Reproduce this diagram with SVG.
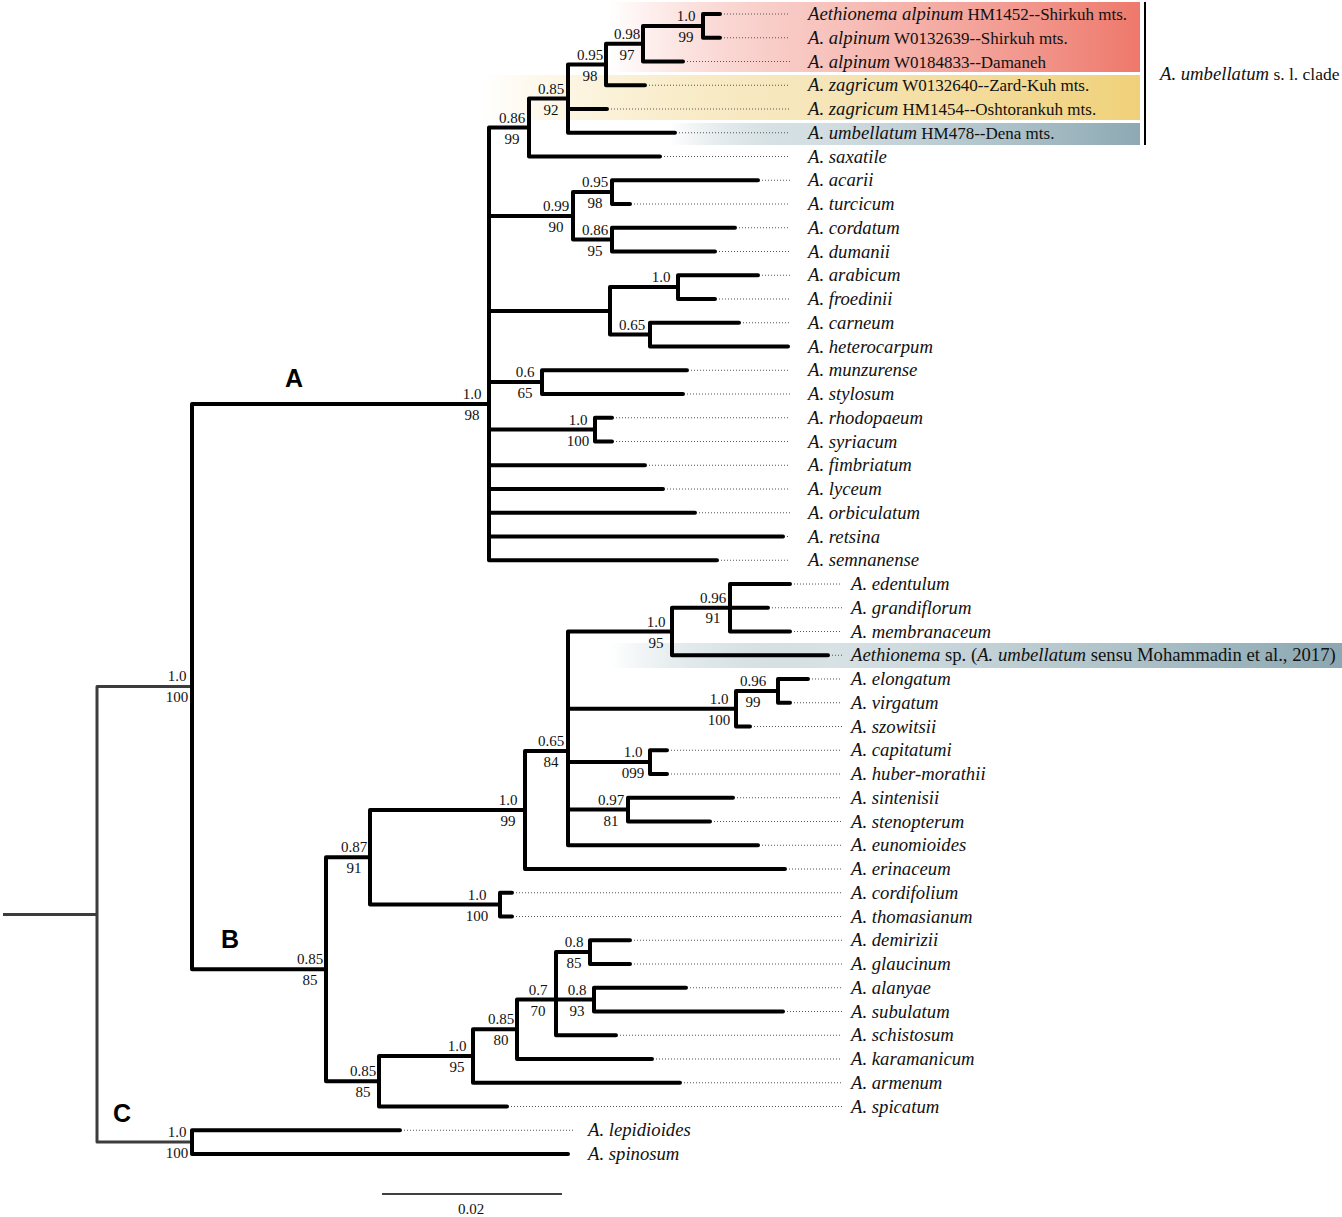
<svg xmlns="http://www.w3.org/2000/svg" width="1342" height="1217" viewBox="0 0 1342 1217">
<style>
.br{fill:none;stroke:#000;stroke-width:4;stroke-linejoin:round;stroke-linecap:round}
.rt{fill:none;stroke:#3c3c3c;stroke-width:3;stroke-linejoin:round;stroke-linecap:butt}
.dt{fill:none;stroke:#555;stroke-width:1;stroke-dasharray:1 2}
.lf{font-family:"Liberation Serif",serif;font-size:18.7px;font-style:italic;fill:#111}
.rg{font-style:normal;font-size:17px}
.rg2{font-style:normal}
.sp{font-family:"Liberation Serif",serif;font-size:15px;text-anchor:middle;fill:#111}
.cl{font-family:"Liberation Sans",sans-serif;font-weight:bold;font-size:25px;fill:#000}
</style>
<defs>
<linearGradient id="gRed" gradientUnits="userSpaceOnUse" x1="610" y1="0" x2="1140" y2="0"><stop offset="0" stop-color="#ef7a6c" stop-opacity="0"/><stop offset="0.35" stop-color="#f3a49b" stop-opacity="0.6"/><stop offset="1" stop-color="#ee786b"/></linearGradient>
<linearGradient id="gYel" gradientUnits="userSpaceOnUse" x1="480" y1="0" x2="1140" y2="0"><stop offset="0" stop-color="#f1d27c" stop-opacity="0"/><stop offset="0.5" stop-color="#f5e3b3" stop-opacity="0.9"/><stop offset="1" stop-color="#f0d179"/></linearGradient>
<linearGradient id="gBlu" gradientUnits="userSpaceOnUse" x1="670" y1="0" x2="1140" y2="0"><stop offset="0" stop-color="#8eaab4" stop-opacity="0"/><stop offset="0.3" stop-color="#c9d7dc" stop-opacity="0.8"/><stop offset="1" stop-color="#8da9b3"/></linearGradient>
<linearGradient id="gBlu2" gradientUnits="userSpaceOnUse" x1="610" y1="0" x2="1342" y2="0"><stop offset="0" stop-color="#8eaab4" stop-opacity="0"/><stop offset="0.3" stop-color="#d3dfe2" stop-opacity="0.9"/><stop offset="1" stop-color="#8ba7b1"/></linearGradient>
</defs>
<rect width="1342" height="1217" fill="#fff"/>
<g id="highlights">
<rect x="610" y="2" width="530" height="70" fill="url(#gRed)"/>
<rect x="480" y="75" width="660" height="45" fill="url(#gYel)"/>
<rect x="670" y="123" width="470" height="22" fill="url(#gBlu)"/>
<rect x="610" y="643" width="732" height="25" fill="url(#gBlu2)"/>
</g>
<g id="connectors">
<path class="rt" d="M3 914.4 H97 M192 686.6 H97 V1142.1 H192"/>
<path class="br" d="M489 404 H192 V969.3 H326"/>
<path class="br" d="M400 1130.25 H192 V1154 H568"/>
<path class="br" d="M720 14 H703 V37.75 H720"/>
<path class="br" d="M703 25.9 H643 V61.5 H683"/>
<path class="br" d="M643 43.7 H606 V85.25 H645"/>
<path class="br" d="M606 64.5 H568 V132.75 H675 M568 109 H607"/>
<path class="br" d="M568 98.6 H529 V156.5 H660"/>
<path class="br" d="M758 180.25 H612 V204 H630"/>
<path class="br" d="M735 227.75 H612 V251.5 H715"/>
<path class="br" d="M612 192.1 H573 V239.6 H612"/>
<path class="br" d="M758 275.25 H678 V299 H715"/>
<path class="br" d="M739 322.75 H650 V346.5 H788"/>
<path class="br" d="M678 287.1 H610 V334.6 H650"/>
<path class="br" d="M687 370.25 H542 V394 H683"/>
<path class="br" d="M612 417.75 H595 V441.5 H612"/>
<path class="br" d="M529 127.6 H489 V560.25 H717 M489 215.9 H573 M489 310.9 H610 M489 382.1 H542 M489 429.6 H595 M489 465.25 H645 M489 489 H663 M489 512.75 H695 M489 536.5 H783"/>
<path class="br" d="M790 584 H730 V631.5 H790 M730 607.75 H768"/>
<path class="br" d="M730 607.75 H672 V655.25 H828"/>
<path class="br" d="M808 679 H778 V702.75 H790"/>
<path class="br" d="M778 690.9 H736 V726.5 H750"/>
<path class="br" d="M667 750.25 H650 V774 H667"/>
<path class="br" d="M733 797.75 H628 V821.5 H710"/>
<path class="br" d="M672 631.5 H568 V845.25 H758 M568 708.7 H736 M568 762.1 H650 M568 809.6 H628"/>
<path class="br" d="M568 751 H525 V869 H785"/>
<path class="br" d="M512 892.75 H500 V916.5 H512"/>
<path class="br" d="M525 810 H370 V904.6 H500"/>
<path class="br" d="M630 940.25 H590 V964 H630"/>
<path class="br" d="M686 987.75 H594 V1011.5 H783"/>
<path class="br" d="M590 952.1 H556 V1035.25 H616 M556 999.6 H594"/>
<path class="br" d="M556 999.6 H517 V1059 H652"/>
<path class="br" d="M517 1029.3 H473 V1082.75 H680"/>
<path class="br" d="M473 1056 H379 V1106.5 H507"/>
<path class="br" d="M370 857.3 H326 V1081.3 H379"/>
<path class="dt" d="M724 14 H790 M724 37.75 H790 M687 61.5 H790 M649 85.25 H790 M611 109 H790 M679 132.75 H790 M664 156.5 H790 M762 180.25 H790 M634 204 H790 M739 227.75 H790 M719 251.5 H790 M762 275.25 H790 M719 299 H790 M743 322.75 H790 M691 370.25 H790 M687 394 H790 M616 417.75 H790 M616 441.5 H790 M649 465.25 H790 M667 489 H790 M699 512.75 H790 M787 536.5 H790 M721 560.25 H790"/>
<path class="dt" d="M794 584 H842 M772 607.75 H842 M794 631.5 H842 M832 655.25 H842 M812 679 H842 M794 702.75 H842 M754 726.5 H842 M671 750.25 H842 M671 774 H842 M737 797.75 H842 M714 821.5 H842 M762 845.25 H842 M789 869 H842 M516 892.75 H842 M516 916.5 H842 M634 940.25 H842 M634 964 H842 M690 987.75 H842 M787 1011.5 H842 M620 1035.25 H842 M656 1059 H842 M684 1082.75 H842 M511 1106.5 H842 M404 1130.25 H575"/>
<path d="M1145 2 V145" fill="none" stroke="#000" stroke-width="2"/>
<path d="M382 1194 H562" fill="none" stroke="#000" stroke-width="1.5"/>
</g>
<g id="clade-labels">
<text class="cl" x="285" y="387">A</text>
<text class="cl" x="221" y="948">B</text>
<text class="cl" x="113" y="1122">C</text>
<text class="lf" x="1160" y="80">A. umbellatum<tspan class="rg" style="font-size:17.5px"> s. l. clade</tspan></text>
<text class="sp" x="471" y="1214">0.02</text>
</g>
<g id="internal-nodes">
<g id="n1"><text class="sp" x="686" y="21">1.0</text><text class="sp" x="686" y="42">99</text></g>
<g id="n2"><text class="sp" x="627" y="39">0.98</text><text class="sp" x="627" y="60">97</text></g>
<g id="n3"><text class="sp" x="590" y="60">0.95</text><text class="sp" x="590" y="81">98</text></g>
<g id="n4"><text class="sp" x="551" y="94">0.85</text><text class="sp" x="551" y="115">92</text></g>
<g id="n5"><text class="sp" x="512" y="123">0.86</text><text class="sp" x="512" y="144">99</text></g>
<g id="n6"><text class="sp" x="595" y="187">0.95</text><text class="sp" x="595" y="208">98</text></g>
<g id="n7"><text class="sp" x="595" y="235">0.86</text><text class="sp" x="595" y="256">95</text></g>
<g id="n8"><text class="sp" x="556" y="211">0.99</text><text class="sp" x="556" y="232">90</text></g>
<g id="n9"><text class="sp" x="661" y="282">1.0</text></g>
<g id="n10"><text class="sp" x="632" y="330">0.65</text></g>
<g id="n12"><text class="sp" x="525" y="377">0.6</text><text class="sp" x="525" y="398">65</text></g>
<g id="n13"><text class="sp" x="578" y="425">1.0</text><text class="sp" x="578" y="446">100</text></g>
<g id="nA"><text class="sp" x="472" y="399">1.0</text><text class="sp" x="472" y="420">98</text></g>
<g id="n14"><text class="sp" x="713" y="603">0.96</text><text class="sp" x="713" y="623">91</text></g>
<g id="n15"><text class="sp" x="656" y="627">1.0</text><text class="sp" x="656" y="648">95</text></g>
<g id="n16"><text class="sp" x="753" y="686">0.96</text><text class="sp" x="753" y="707">99</text></g>
<g id="n17"><text class="sp" x="719" y="704">1.0</text><text class="sp" x="719" y="725">100</text></g>
<g id="n18"><text class="sp" x="633" y="757">1.0</text><text class="sp" x="633" y="778">099</text></g>
<g id="n19"><text class="sp" x="611" y="805">0.97</text><text class="sp" x="611" y="826">81</text></g>
<g id="n20"><text class="sp" x="551" y="746">0.65</text><text class="sp" x="551" y="767">84</text></g>
<g id="n21"><text class="sp" x="508" y="805">1.0</text><text class="sp" x="508" y="826">99</text></g>
<g id="n22"><text class="sp" x="477" y="900">1.0</text><text class="sp" x="477" y="921">100</text></g>
<g id="n23"><text class="sp" x="354" y="852">0.87</text><text class="sp" x="354" y="873">91</text></g>
<g id="n24"><text class="sp" x="574" y="947">0.8</text><text class="sp" x="574" y="968">85</text></g>
<g id="n25"><text class="sp" x="577" y="995">0.8</text><text class="sp" x="577" y="1016">93</text></g>
<g id="n26"><text class="sp" x="538" y="995">0.7</text><text class="sp" x="538" y="1016">70</text></g>
<g id="n27"><text class="sp" x="501" y="1024">0.85</text><text class="sp" x="501" y="1045">80</text></g>
<g id="n28"><text class="sp" x="457" y="1051">1.0</text><text class="sp" x="457" y="1072">95</text></g>
<g id="n29"><text class="sp" x="363" y="1076">0.85</text><text class="sp" x="363" y="1097">85</text></g>
<g id="nB"><text class="sp" x="310" y="964">0.85</text><text class="sp" x="310" y="985">85</text></g>
<g id="nAB"><text class="sp" x="177" y="681">1.0</text><text class="sp" x="177" y="702">100</text></g>
<g id="nC"><text class="sp" x="177" y="1137">1.0</text><text class="sp" x="177" y="1158">100</text></g>
</g>
<g id="leaves">
<g id="t1"><text class="lf" x="808" y="20">Aethionema alpinum<tspan class="rg"> HM1452--Shirkuh mts.</tspan></text></g>
<g id="t2"><text class="lf" x="808" y="43.75">A. alpinum<tspan class="rg"> W0132639--Shirkuh mts.</tspan></text></g>
<g id="t3"><text class="lf" x="808" y="67.5">A. alpinum<tspan class="rg"> W0184833--Damaneh</tspan></text></g>
<g id="t4"><text class="lf" x="808" y="91.25">A. zagricum<tspan class="rg"> W0132640--Zard-Kuh mts.</tspan></text></g>
<g id="t5"><text class="lf" x="808" y="115">A. zagricum<tspan class="rg"> HM1454--Oshtorankuh mts.</tspan></text></g>
<g id="t6"><text class="lf" x="808" y="138.75">A. umbellatum<tspan class="rg"> HM478--Dena mts.</tspan></text></g>
<g id="t7"><text class="lf" x="808" y="162.5">A. saxatile</text></g>
<g id="t8"><text class="lf" x="808" y="186.25">A. acarii</text></g>
<g id="t9"><text class="lf" x="808" y="210">A. turcicum</text></g>
<g id="t10"><text class="lf" x="808" y="233.75">A. cordatum</text></g>
<g id="t11"><text class="lf" x="808" y="257.5">A. dumanii</text></g>
<g id="t12"><text class="lf" x="808" y="281.25">A. arabicum</text></g>
<g id="t13"><text class="lf" x="808" y="305">A. froedinii</text></g>
<g id="t14"><text class="lf" x="808" y="328.75">A. carneum</text></g>
<g id="t15"><text class="lf" x="808" y="352.5">A. heterocarpum</text></g>
<g id="t16"><text class="lf" x="808" y="376.25">A. munzurense</text></g>
<g id="t17"><text class="lf" x="808" y="400">A. stylosum</text></g>
<g id="t18"><text class="lf" x="808" y="423.75">A. rhodopaeum</text></g>
<g id="t19"><text class="lf" x="808" y="447.5">A. syriacum</text></g>
<g id="t20"><text class="lf" x="808" y="471.25">A. fimbriatum</text></g>
<g id="t21"><text class="lf" x="808" y="495">A. lyceum</text></g>
<g id="t22"><text class="lf" x="808" y="518.75">A. orbiculatum</text></g>
<g id="t23"><text class="lf" x="808" y="542.5">A. retsina</text></g>
<g id="t24"><text class="lf" x="808" y="566.25">A. semnanense</text></g>
<g id="t25"><text class="lf" x="851" y="590">A. edentulum</text></g>
<g id="t26"><text class="lf" x="851" y="613.75">A. grandiflorum</text></g>
<g id="t27"><text class="lf" x="851" y="637.5">A. membranaceum</text></g>
<g id="t28"><text class="lf" x="851" y="661.25">Aethionema<tspan class="rg2"> sp. (</tspan>A. umbellatum<tspan class="rg2"> sensu Mohammadin et al., 2017)</tspan></text></g>
<g id="t29"><text class="lf" x="851" y="685">A. elongatum</text></g>
<g id="t30"><text class="lf" x="851" y="708.75">A. virgatum</text></g>
<g id="t31"><text class="lf" x="851" y="732.5">A. szowitsii</text></g>
<g id="t32"><text class="lf" x="851" y="756.25">A. capitatumi</text></g>
<g id="t33"><text class="lf" x="851" y="780">A. huber-morathii</text></g>
<g id="t34"><text class="lf" x="851" y="803.75">A. sintenisii</text></g>
<g id="t35"><text class="lf" x="851" y="827.5">A. stenopterum</text></g>
<g id="t36"><text class="lf" x="851" y="851.25">A. eunomioides</text></g>
<g id="t37"><text class="lf" x="851" y="875">A. erinaceum</text></g>
<g id="t38"><text class="lf" x="851" y="898.75">A. cordifolium</text></g>
<g id="t39"><text class="lf" x="851" y="922.5">A. thomasianum</text></g>
<g id="t40"><text class="lf" x="851" y="946.25">A. demirizii</text></g>
<g id="t41"><text class="lf" x="851" y="970">A. glaucinum</text></g>
<g id="t42"><text class="lf" x="851" y="993.75">A. alanyae</text></g>
<g id="t43"><text class="lf" x="851" y="1017.5">A. subulatum</text></g>
<g id="t44"><text class="lf" x="851" y="1041.25">A. schistosum</text></g>
<g id="t45"><text class="lf" x="851" y="1065">A. karamanicum</text></g>
<g id="t46"><text class="lf" x="851" y="1088.75">A. armenum</text></g>
<g id="t47"><text class="lf" x="851" y="1112.5">A. spicatum</text></g>
<g id="t48"><text class="lf" x="588" y="1136.25">A. lepidioides</text></g>
<g id="t49"><text class="lf" x="588" y="1160">A. spinosum</text></g>
</g>
</svg>
